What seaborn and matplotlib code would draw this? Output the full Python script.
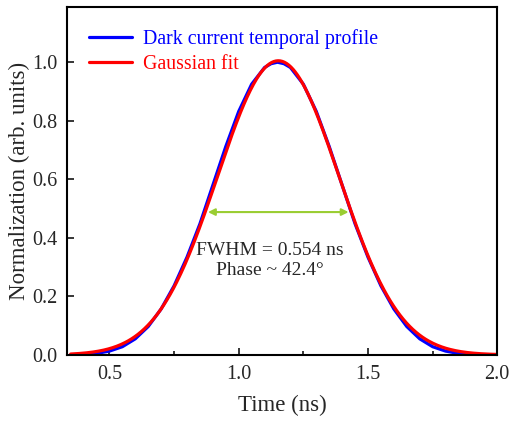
import numpy as np
import pandas as pd
import matplotlib
matplotlib.use("Agg")
import matplotlib.pyplot as plt
from matplotlib.ticker import MultipleLocator
import seaborn as sns

# Measured dark-current temporal profile (normalized)
time_ns = [0.35, 0.40, 0.45, 0.50, 0.55, 0.60, 0.65, 0.70, 0.75, 0.80,
           0.85, 0.90, 0.95, 1.00, 1.05, 1.10, 1.125, 1.15, 1.175, 1.20,
           1.25, 1.30, 1.35, 1.40, 1.45, 1.50, 1.55, 1.60, 1.65, 1.70,
           1.75, 1.80, 1.85, 1.90, 1.95, 2.00]
dark_current = [0.0005, 0.0015, 0.005, 0.013, 0.028, 0.055, 0.097, 0.157,
                0.236, 0.334, 0.448, 0.580, 0.712, 0.832, 0.925, 0.982,
                0.995, 1.000, 0.995, 0.982, 0.925, 0.832, 0.712, 0.580,
                0.448, 0.334, 0.236, 0.157, 0.097, 0.055, 0.028, 0.013,
                0.005, 0.0015, 0.0005, 0.0002]

# Gaussian fit parameters
fit_amplitude = 1.005
fit_center = 1.153
fit_fwhm = 0.554
fit_sigma = fit_fwhm / (2 * np.sqrt(2 * np.log(2)))
fit_time = np.linspace(0.35, 2.0, 400)
fit_values = fit_amplitude * np.exp(-(fit_time - fit_center) ** 2 / (2 * fit_sigma ** 2))

sns.set_style("ticks")
plt.rcParams["font.family"] = ["Liberation Serif", "DejaVu Serif"]

fig = plt.figure(figsize=(5.10, 4.24), dpi=100)
ax = fig.add_axes([0.131, 0.163, 0.844, 0.820])

df_meas = pd.DataFrame({"t": time_ns, "v": dark_current})
df_fit = pd.DataFrame({"t": fit_time, "v": fit_values})
sns.lineplot(data=df_meas, x="t", y="v", ax=ax, color="#0000ff", lw=2.3,
             label="Dark current temporal profile")
sns.lineplot(data=df_fit, x="t", y="v", ax=ax, color="#ff0000", lw=2.3,
             label="Gaussian fit")

# FWHM arrow
half = 0.488
ax.annotate("", xy=(fit_center - fit_fwhm / 2 + 0.005, half),
            xytext=(fit_center + fit_fwhm / 2 - 0.005, half),
            arrowprops=dict(arrowstyle="<|-|>", color="#9acd32", lw=1.5,
                            mutation_scale=10, shrinkA=0, shrinkB=0))
ax.text(1.12, 0.358, "FWHM = 0.554 ns", ha="center", va="center", fontsize=14)
ax.text(1.12, 0.288, "Phase ~ 42.4°", ha="center", va="center", fontsize=14)

ax.set_xlim(0.335, 2.0)
ax.set_ylim(0, 1.188)
ax.xaxis.set_minor_locator(MultipleLocator(0.25))
ax.yaxis.set_major_locator(MultipleLocator(0.2))
ax.set_xticks([0.5, 1.0, 1.5, 2.0])
ax.set_xticklabels(["0.5", "1.0", "1.5", "2.0"])
ax.tick_params(axis="both", which="both", direction="in", labelsize=14.5,
               width=1.3, top=False, right=False)
ax.tick_params(which="major", length=5, pad=7)
ax.tick_params(which="minor", length=3)
for sp in ax.spines.values():
    sp.set_visible(True)
    sp.set_linewidth(1.5)
    sp.set_color("black")

ax.set_xlabel("Time (ns)", fontsize=16.5, labelpad=8)
ax.set_ylabel("Normalization (arb. units)", fontsize=16.5, labelpad=1)

leg = ax.legend(loc="upper left", frameon=False, fontsize=14.3,
                handlelength=2.2, handletextpad=0.55, borderaxespad=0.7,
                labelspacing=0.3)
for txt, c in zip(leg.get_texts(), ["#0000ff", "#ff0000"]):
    txt.set_color(c)

fig.savefig("out.png", dpi=100)
